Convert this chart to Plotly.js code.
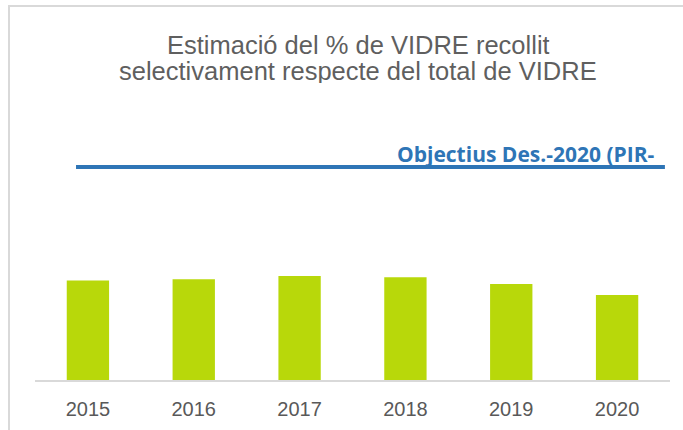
<!DOCTYPE html>
<html>
<head>
<meta charset="utf-8">
<script src="https://cdn.plot.ly/plotly-3.0.1.min.js"></script>
<style>
html,body{margin:0;padding:0;background:#fff;}
#frame{position:absolute;left:8px;top:5px;width:700px;height:440px;border-top:2px solid #d9d9d9;border-left:2px solid #d9d9d9;}
#chart{position:absolute;left:0;top:0;width:683px;height:430px;}
</style>
</head>
<body>
<div id="frame"></div>
<div id="chart"></div>
<script>
var years = ['2015','2016','2017','2018','2019','2020'];
var pctVidre = [35.0, 35.5, 36.6, 36.2, 33.8, 29.9];
var objectiu = [75];
var objectiuLabel = ['Objectius Des.-2020 (PIR-'];
var titleLines = ['Estimació del % de VIDRE recollit', 'selectivament respecte del total de VIDRE'];

var trace = {
  type: 'bar',
  x: years,
  y: pctVidre,
  marker: {color: '#b8d80a'},
  width: 0.4,
  hoverinfo: 'x+y'
};

var titleFont = {family: 'Liberation Sans, Arial, sans-serif', size: 25.5, color: '#5f5f5f'};

var layout = {
  width: 683, height: 430,
  paper_bgcolor: 'rgba(0,0,0,0)',
  plot_bgcolor: 'rgba(0,0,0,0)',
  margin: {l: 35, r: 13, t: 96, b: 50},
  showlegend: false,
  xaxis: {
    type: 'category',
    showline: true, linecolor: '#d9d9d9', linewidth: 2,
    showgrid: false, zeroline: false, ticks: '',
    ticklabelstandoff: 10,
    tickfont: {family: 'Liberation Sans, Arial, sans-serif', size: 20, color: '#595959'}
  },
  yaxis: {
    range: [0, 100],
    visible: false, showgrid: false, zeroline: false
  },
  shapes: [{
    type: 'line', xref: 'paper', yref: 'y',
    x0: 0.0646, x1: 0.992, y0: objectiu[0], y1: objectiu[0],
    line: {color: '#2e75b6', width: 4}
  }],
  annotations: [{
    text: objectiuLabel[0],
    xref: 'paper', yref: 'y',
    x: 0.98, y: objectiu[0], yshift: -3,
    xanchor: 'right', yanchor: 'bottom',
    showarrow: false,
    font: {family: 'Open Sans, sans-serif', size: 21, color: '#2e75b6', weight: 'bold'}
  }, {
    text: titleLines[0],
    xref: 'paper', yref: 'paper',
    x: 0.5087, y: 1.1795, xanchor: 'center', yanchor: 'middle',
    height: 24, borderpad: 0,
    showarrow: false, font: titleFont
  }, {
    text: titleLines[1],
    xref: 'paper', yref: 'paper',
    x: 0.5087, y: 1.088, xanchor: 'center', yanchor: 'middle',
    height: 24, borderpad: 0,
    showarrow: false, font: titleFont
  }]
};

Plotly.newPlot('chart', [trace], layout, {displayModeBar: false, staticPlot: true});
</script>
</body>
</html>
